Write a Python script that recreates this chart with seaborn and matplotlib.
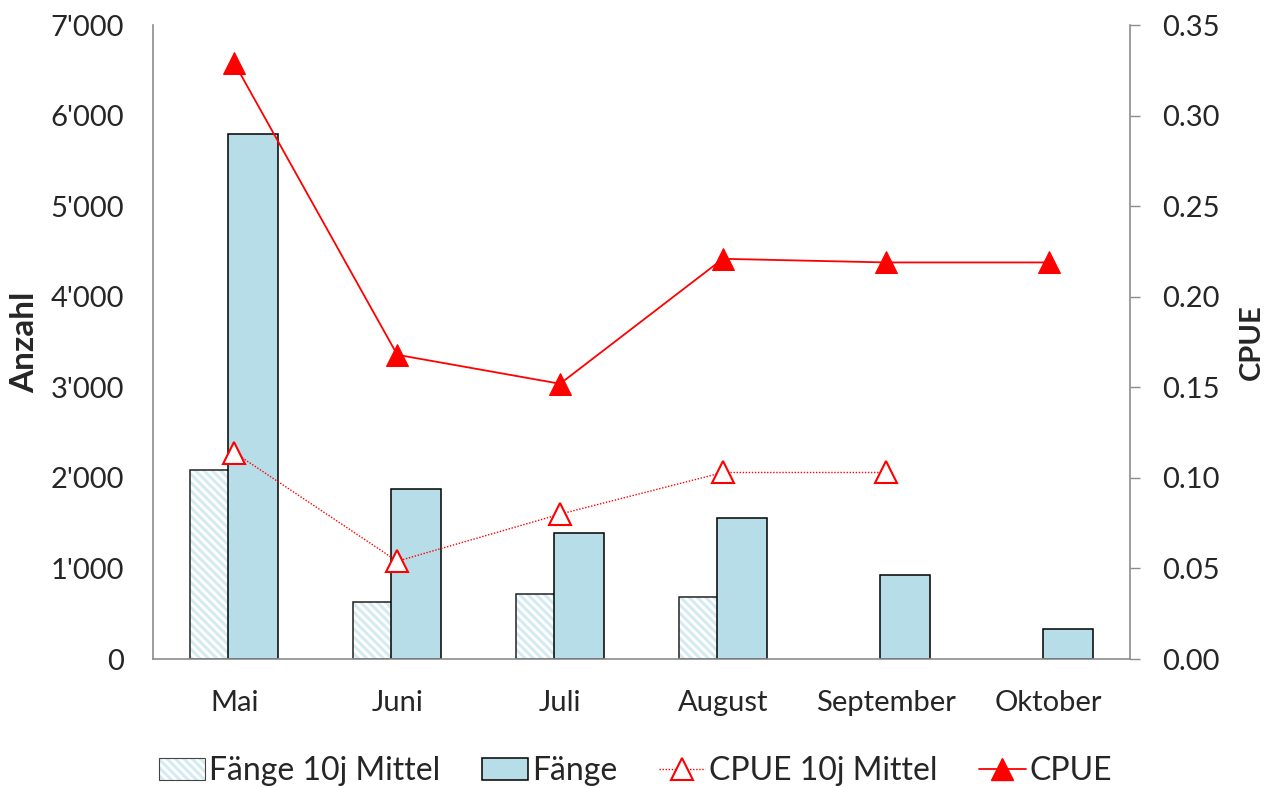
import numpy as np
import pandas as pd
import matplotlib
matplotlib.use("Agg")
import matplotlib.pyplot as plt
from matplotlib.ticker import FuncFormatter
from matplotlib.lines import Line2D
from matplotlib.patches import Patch
import seaborn as sns

# Monthly data
monate = ["Mai", "Juni", "Juli", "August", "September", "Oktober"]
faenge = [5800, 1880, 1390, 1560, 925, 330]
faenge_mittel = [2090, 630, 715, 685, np.nan, np.nan]
cpue = [0.329, 0.168, 0.152, 0.221, 0.219, 0.219]
cpue_mittel = [0.114, 0.054, 0.080, 0.103, 0.103, np.nan]

sns.set_theme(style="white")
plt.rcParams["font.family"] = ["Lato", "DejaVu Sans"]
plt.rcParams["hatch.linewidth"] = 2.2

bar_blue = "#b7dde8"
hatch_blue = "#d4ebf2"
red = "#ff0000"
grey = "#8c8c8c"
hatch = "\\\\\\\\"

fig = plt.figure(figsize=(12.71, 7.88), dpi=100)
ax = fig.add_axes([0.1204, 0.1637, 0.889 - 0.1204, 0.968 - 0.1637])

bars = pd.DataFrame({
    "Monat": monate * 2,
    "Serie": ["Fänge 10j Mittel"] * 6 + ["Fänge"] * 6,
    "Anzahl": faenge_mittel + faenge,
})
sns.barplot(data=bars, x="Monat", y="Anzahl", hue="Serie",
            hue_order=["Fänge 10j Mittel", "Fänge"], order=monate,
            width=0.468, dodge=True, ax=ax, legend=False,
            palette=["white", bar_blue], edgecolor="black", linewidth=1.1,
            saturation=1)


def hatch_colour(patch):
    try:
        patch.set_hatchcolor(hatch_blue)
    except AttributeError:
        patch._hatch_color = matplotlib.colors.to_rgba(hatch_blue)


# Widen the bars so the two series overlap slightly; the white bars
# (10-year mean) get the light diagonal hatch and sit behind.
bar_w = 0.307
n = len(monate)
white = matplotlib.colors.to_rgba("white")
for p in ax.patches:
    c = p.get_x() + p.get_width() / 2
    p.set_x(c - bar_w / 2)
    p.set_width(bar_w)
    if np.allclose(p.get_facecolor(), white):
        p.set_hatch(hatch)
        p.set_zorder(1.5)
        p.set_edgecolor("#222222")
        hatch_colour(p)
    else:
        p.set_zorder(2)

ax.set_ylim(0, 7000)
ax.set_xlim(-0.5, n - 0.5)
ax.set_yticks(np.arange(0, 7001, 1000))
ax.yaxis.set_major_formatter(FuncFormatter(lambda v, _: f"{int(v):,}".replace(",", "'")))
ax.tick_params(axis="y", length=0, labelsize=21, pad=21)
ax.tick_params(axis="x", length=0, labelsize=21, pad=22)
ax.set_xlabel("")
ax.set_ylabel("Anzahl", fontsize=24, fontweight="bold", labelpad=8)
for s in ["top", "right"]:
    ax.spines[s].set_visible(False)
for s in ["left", "bottom"]:
    ax.spines[s].set_color(grey)
    ax.spines[s].set_linewidth(1.2)

ax2 = ax.twinx()
lines = pd.DataFrame({"Monat": monate, "CPUE": cpue, "Mittel": cpue_mittel})
sns.lineplot(data=lines, x="Monat", y="Mittel", ax=ax2, color=red,
             linestyle=(0, (1, 1.2)), linewidth=1.0, marker="^", markersize=16,
             markerfacecolor="white", markeredgecolor=red, markeredgewidth=1.5)
sns.lineplot(data=lines, x="Monat", y="CPUE", ax=ax2, color=red,
             linewidth=1.3, marker="^", markersize=16,
             markerfacecolor=red, markeredgecolor=red)
ax2.set_xlim(-0.5, n - 0.5)
ax2.set_ylim(0, 0.35)
ax2.set_yticks(np.arange(0, 0.351, 0.05))
ax2.yaxis.set_major_formatter(FuncFormatter(lambda v, _: f"{v:.2f}"))
ax2.tick_params(axis="y", length=7, width=1.0, color=grey, labelsize=21, pad=16,
                direction="out")
ax2.set_ylabel("CPUE", fontsize=21, fontweight="bold", labelpad=14)
ax2.set_xlabel("")
for s in ["top", "left", "bottom"]:
    ax2.spines[s].set_visible(False)
ax2.spines["right"].set_color(grey)
ax2.spines["right"].set_linewidth(1.2)

legend_hatch = Patch(facecolor="white", edgecolor="#444444", hatch=hatch, linewidth=0.8)
hatch_colour(legend_hatch)
handles = [
    legend_hatch,
    Patch(facecolor=bar_blue, edgecolor="black", linewidth=1.1),
    Line2D([0], [0], color=red, linestyle=(0, (1, 1.2)), linewidth=1.0, marker="^",
           markersize=16, markerfacecolor="white", markeredgecolor=red, markeredgewidth=1.5),
    Line2D([0], [0], color=red, linewidth=1.3, marker="^", markersize=16,
           markerfacecolor=red, markeredgecolor=red),
]
labels = ["Fänge 10j Mittel", "Fänge", "CPUE 10j Mittel", "CPUE"]
fig.legend(handles, labels, loc="lower center", bbox_to_anchor=(0.5, -0.034),
           ncol=4, frameon=False, fontsize=23, handlelength=1.45, handleheight=0.7,
           handletextpad=0.12, columnspacing=1.3)

fig.savefig("out.png", dpi=100)
